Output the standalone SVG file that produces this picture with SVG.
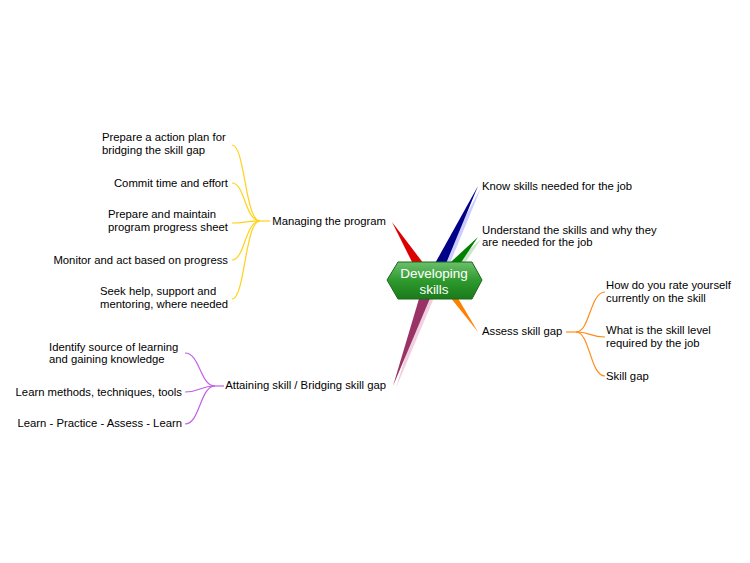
<svg xmlns="http://www.w3.org/2000/svg" width="750" height="563" viewBox="0 0 750 563">
<defs>
<linearGradient id="g" x1="0" y1="0" x2="0" y2="1"><stop offset="0" stop-color="#6cbf6c"/><stop offset="0.5" stop-color="#2e9a2e"/><stop offset="1" stop-color="#1a7a1a"/></linearGradient>
</defs>
<style>
text{font-family:"Liberation Sans",Arial,sans-serif;font-size:11.3px;fill:#000}
.y{fill:none;stroke:#ffd21a;stroke-width:1.2}
.p{fill:none;stroke:#c060e8;stroke-width:1.2}
.o{fill:none;stroke:#ff8c1a;stroke-width:1.2}
</style>
<rect width="750" height="563" fill="#fff"/>
<g id="connectors">
<polygon points="478,186 440,278 428,276" fill="#ccccff" transform="translate(3,2)"/>
<polygon points="478,186 440,278 428,276" fill="#000088"/>
<polygon points="478,237 448,282 440,272" fill="#cce6cc" transform="translate(3,2)"/>
<polygon points="478,237 448,282 440,272" fill="#008000"/>
<polygon points="392,222 430,272 420,278" fill="#dd0000"/>
<polygon points="478,332 438,282 446,278" fill="#ff8000"/>
<polygon points="393,386 424,282 436,284" fill="#f0d0e0" transform="translate(3,2)"/>
<polygon points="393,386 424,282 436,284" fill="#993366"/>
<path class="y" d="M260,221 C245,221 245,145 232,145"/>
<path class="y" d="M260,221 C245,221 245,183 232,183"/>
<path class="y" d="M260,221 C245,221 245,223 232,223"/>
<path class="y" d="M260,221 C245,221 245,260 232,260"/>
<path class="y" d="M260,221 C245,221 245,299 232,299"/>
<line x1="260" y1="221" x2="270" y2="221" stroke="#ffd21a" stroke-width="1.2"/>
<path class="p" d="M215,386 C200,386 200,353 185,353"/>
<path class="p" d="M215,386 C200,386 200,392 185,392"/>
<path class="p" d="M215,386 C200,386 200,424 185,424"/>
<line x1="215" y1="386" x2="224" y2="386" stroke="#c060e8" stroke-width="1.2"/>
<path class="o" d="M576,332 C590,332 590,292 605,292"/>
<path class="o" d="M576,332 C590,332 590,337 605,337"/>
<path class="o" d="M576,332 C590,332 590,376 605,376"/>
<line x1="566" y1="332" x2="576" y2="332" stroke="#ff8c1a" stroke-width="1.2"/>
</g>
<g id="center">
<polygon points="398,262 472,262 482,280 472,299 398,299 387,280" fill="url(#g)" stroke="#1a6a1a" stroke-width="1"/>
<text x="434" y="278" text-anchor="middle" style="font-size:13.5px;fill:#fff">Developing</text>
<text x="434" y="294" text-anchor="middle" style="font-size:13.5px;fill:#fff">skills</text>
</g>
<g id="n-know"><text x="482" y="190">Know skills needed for the job</text></g>
<g id="n-understand"><text x="482" y="234">Understand the skills and why they</text><text x="482" y="246">are needed for the job</text></g>
<g id="n-assess"><text x="482" y="335">Assess skill gap</text></g>
<g id="n-rate"><text x="606" y="289">How do you rate yourself</text><text x="606" y="302">currently on the skill</text></g>
<g id="n-level"><text x="606" y="334">What is the skill level</text><text x="606" y="347">required by the job</text></g>
<g id="n-gap"><text x="606" y="380">Skill gap</text></g>
<g id="n-managing"><text x="386" y="225" text-anchor="end">Managing the program</text></g>
<g id="n-plan"><text x="102" y="141">Prepare a action plan for</text><text x="102" y="154">bridging the skill gap</text></g>
<g id="n-commit"><text x="228" y="187" text-anchor="end">Commit time and effort</text></g>
<g id="n-sheet"><text x="108" y="218">Prepare and maintain</text><text x="108" y="231">program progress sheet</text></g>
<g id="n-monitor"><text x="228" y="264" text-anchor="end">Monitor and act based on progress</text></g>
<g id="n-help"><text x="100" y="295">Seek help, support and</text><text x="100" y="308">mentoring, where needed</text></g>
<g id="n-attaining"><text x="386" y="389" text-anchor="end">Attaining skill / Bridging skill gap</text></g>
<g id="n-source"><text x="49" y="351">Identify source of learning</text><text x="49" y="363">and gaining knowledge</text></g>
<g id="n-methods"><text x="182" y="396" text-anchor="end">Learn methods, techniques, tools</text></g>
<g id="n-cycle"><text x="182" y="427" text-anchor="end">Learn - Practice - Assess - Learn</text></g>
</svg>
